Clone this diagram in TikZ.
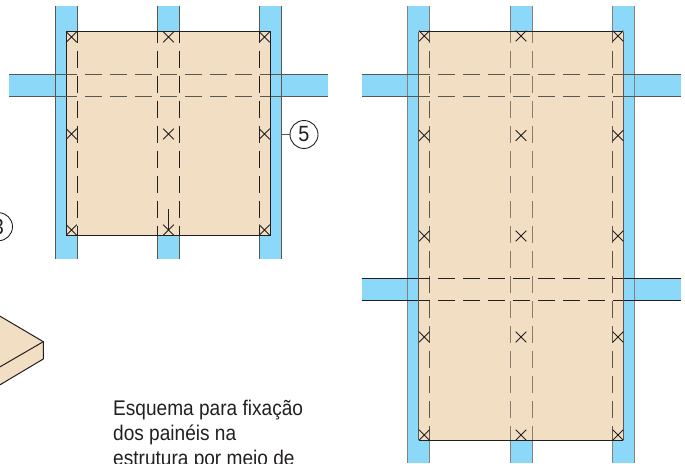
\documentclass[tikz,border=0pt]{standalone}
\usepackage{fontspec}
\setmainfont[FakeStretch=0.9]{Liberation Sans}
\definecolor{beam}{HTML}{8BD8F8}
\definecolor{panel}{HTML}{F1DEC3}
\definecolor{ink}{HTML}{231F20}
\definecolor{softink}{HTML}{5A5750}
\definecolor{fadeink}{HTML}{8A7B6A}
\tikzset{
  beamfill/.style={fill=beam,draw=none},
  beamedge/.style={draw=softink,line width=0.95pt},
  panelbox/.style={fill=panel,draw=ink,line width=0.95pt},
  hidden/.style={draw=ink,line width=0.95pt,dash pattern=on 17pt off 8pt},
  fix/.style={draw=ink,line width=0.8pt},
  callout/.style={circle,draw=ink,line width=0.9pt,minimum size=28pt,inner sep=0pt,font=\fontsize{22}{22}\selectfont,text=ink},
  caption/.style={anchor=base west,inner sep=0pt,font=\fontsize{21.2}{25}\selectfont,text=ink},
  plank/.style={fill=panel,draw=ink,line width=1pt,line join=round}
}
\begin{document}
\begin{tikzpicture}[x=1pt,y=1pt]
\useasboundingbox (0,0) rectangle (685,-463);
\clip (0,0) rectangle (685,-463);
% left scheme: beams
\fill[beamfill] (9,-74) rectangle (328,-96);
\foreach \a in {55.5,157.5,259.5}{
  \fill[beamfill] (\a,-5.5) rectangle (\a+22,-259);
  \draw[beamedge] (\a,-5.5) -- (\a,-259) (\a+22,-5.5) -- (\a+22,-259);
}
\draw[beamedge] (9,-74) -- (328,-74) (9,-96) -- (328,-96);
\draw[panelbox] (66.5,-31.5) rectangle (270.5,-235.5);
\foreach \a in {77.5,157.5,179.5,259.5}
  \draw[hidden,dash phase=5.3pt] (\a,-31) -- (\a,-235.5);
\foreach \b in {74,96}
  \draw[hidden,draw=softink,dash phase=6pt] (66,-\b) -- (270,-\b);
\foreach \a in {71.5,168.5,264.5}
  \foreach \b in {37,134,230}
    \draw[fix] (\a-5.3,-\b-5.3) -- (\a+5.3,-\b+5.3) (\a-5.3,-\b+5.3) -- (\a+5.3,-\b-5.3);
\draw[fix,line width=1pt] (168.5,-209) -- (168.5,-230);
% callouts
\coordinate (beamR) at (282,-134.5);
\node[callout] (c5) at (304,-134.5) {5};
\draw[softink,line width=1pt] (beamR) -- (c5);
\node[callout] (c3) at (-1.5,-226.7) {3};
% plank
\path[plank] (-2,-315) -- (43.3,-341.7) -- (43.3,-359) -- (-2,-386) -- cycle;
\draw[plank,fill=none] (-2,-368) -- (43.3,-341.7);
% caption
\node[caption] (t1) at (113,-415.5) {Esquema para fixação};
\node[caption] (t2) at (113,-440.5) {dos painéis na};
\node[caption] (t3) at (113,-465.5) {estrutura por meio de};
% right scheme: beams
\fill[beamfill] (361.5,-74) rectangle (681,-96);
\fill[beamfill] (361.5,-278.5) rectangle (681,-300.5);
\foreach \a in {407.5,510,612.5}{
  \fill[beamfill] (\a,-5.5) rectangle (\a+22.3,-463);
  \draw[beamedge,draw=softink!75] (\a,-5.5) -- (\a,-463) (\a+22.3,-5.5) -- (\a+22.3,-463);
}
\draw[beamedge] (361.5,-74) -- (681,-74) (361.5,-96) -- (681,-96);
\draw[beamedge,draw=ink] (361.5,-278.5) -- (681,-278.5) (361.5,-300.5) -- (681,-300.5);
\fill[panel] (418.7,-31.5) rectangle (623,-440);
\draw[ink,line width=0.95pt] (418.7,-31.5) -- (623,-31.5) (418.7,-440) -- (623,-440);
\draw[softink,line width=0.95pt] (418.7,-31.5) -- (418.7,-440) (623,-31.5) -- (623,-440);
\foreach \a in {429.8,612.5}
  \draw[hidden,draw=softink,dash phase=5.3pt] (\a,-31.5) -- (\a,-440);
\foreach \a in {510,532.3}
  \draw[hidden,draw=fadeink,dash phase=5.3pt] (\a,-31.5) -- (\a,-440);
\foreach \b in {74,96}
  \draw[hidden,draw=softink,dash phase=5.4pt] (418.7,-\b) -- (623,-\b);
\foreach \b in {278.5,300.5}
  \draw[hidden,dash phase=5.4pt] (418.7,-\b) -- (623,-\b);
\foreach \a in {424.3,521,618}
  \foreach \b in {36,135.5,236,337,435}
    \draw[fix] (\a-5.3,-\b-5.3) -- (\a+5.3,-\b+5.3) (\a-5.3,-\b+5.3) -- (\a+5.3,-\b-5.3);
\end{tikzpicture}
\end{document}
